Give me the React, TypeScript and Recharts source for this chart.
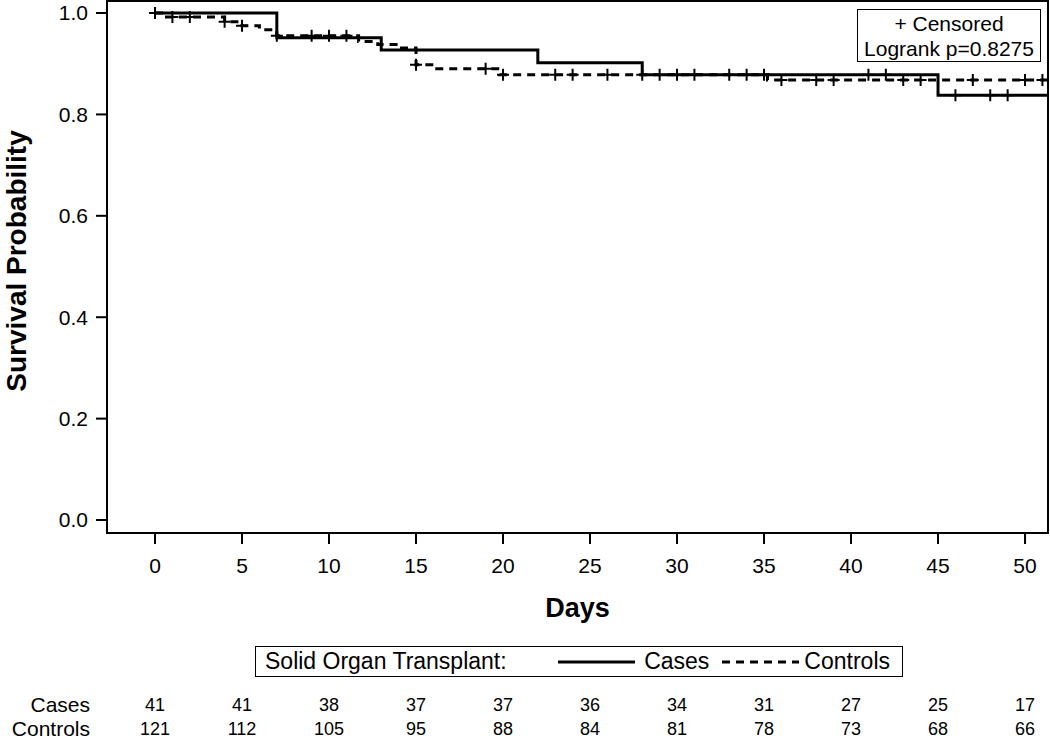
import React from 'react';
import { ComposedChart, Line, Scatter, XAxis, YAxis, ReferenceArea, Legend } from 'recharts';

// Kaplan-Meier steps
const CASES_TIMES = [0, 7, 13, 22, 28, 45, 51.32];
const CASES_SURV = [1.0, 0.951, 0.927, 0.902, 0.878, 0.838, 0.838];
const CONTROLS_TIMES = [0, 0.5, 4, 5, 6, 7, 11.7, 12.8, 14, 15, 16, 19.8, 35.2, 51.32];
const CONTROLS_SURV = [1.0, 0.992, 0.983, 0.975, 0.967, 0.955, 0.944, 0.938, 0.931, 0.898, 0.89, 0.878, 0.868, 0.868];

// censoring times (days)
const CASES_CENSORED = [0, 28, 30, 33, 35, 41, 42, 46, 48, 49];
const CONTROLS_CENSORED = [1, 2, 4, 5, 7, 9, 10, 11, 15, 19, 20, 23, 24, 26, 29, 31, 34, 36, 38, 39, 43, 44, 47, 50, 51];

// number at risk table
const DAY_TICKS = [0, 5, 10, 15, 20, 25, 30, 35, 40, 45, 50];
const CASES_AT_RISK = [41, 41, 38, 37, 37, 36, 34, 31, 27, 25, 17];
const CONTROLS_AT_RISK = [121, 112, 105, 95, 88, 84, 81, 78, 73, 68, 66];

const SURV_TICKS = [0, 0.2, 0.4, 0.6, 0.8, 1.0];
const X_DOMAIN: [number, number] = [-2.76, 51.32];
const Y_DOMAIN: [number, number] = [-0.0256, 1.0237];

const FONT = '"Liberation Sans", Arial, sans-serif';
const INK = '#000';

const toCurve = (times: number[], surv: number[]) => times.map((x, i) => ({ x, y: surv[i] }));

// survival value at time t on a step curve
const survAt = (times: number[], surv: number[], t: number) => {
  let idx = 0;
  times.forEach((tt, i) => {
    if (tt <= t) idx = i;
  });
  return surv[idx];
};

const casesCurve = toCurve(CASES_TIMES, CASES_SURV);
const controlsCurve = toCurve(CONTROLS_TIMES, CONTROLS_SURV);
const casesCensor = CASES_CENSORED.map((x) => ({ x, y: survAt(CASES_TIMES, CASES_SURV, x) }));
const controlsCensor = CONTROLS_CENSORED.map((x) => ({ x, y: survAt(CONTROLS_TIMES, CONTROLS_SURV, x) }));

const CensorMark = (props: any) => {
  const { cx, cy } = props;
  if (cx == null || cy == null) return null;
  return (
    <path
      d={`M${cx - 6},${cy}H${cx + 6}M${cx},${cy - 6}V${cy + 6}`}
      stroke={INK}
      strokeWidth={2}
      fill="none"
    />
  );
};

const YTitle = (props: any) => {
  const { x, y, height } = props.viewBox;
  const cx = x + 16;
  const cy = y + height / 2 - 6;
  return (
    <text
      x={cx}
      y={cy}
      transform={`rotate(-90 ${cx} ${cy})`}
      textAnchor="middle"
      dominantBaseline="central"
      fontFamily={FONT}
      fontWeight="bold"
      fontSize={28}
      fill={INK}
    >
      Survival Probability
    </text>
  );
};

const XTitle = (props: any) => {
  const { x, y, width } = props.viewBox;
  return (
    <text
      x={x + width / 2}
      y={y + 75}
      textAnchor="middle"
      dominantBaseline="central"
      fontFamily={FONT}
      fontWeight="bold"
      fontSize={27}
      fill={INK}
    >
      Days
    </text>
  );
};

const RowLabel = (props: any) => {
  const { x, y } = props.viewBox;
  return (
    <text
      x={x - 17}
      y={y + 10}
      textAnchor="end"
      dominantBaseline="central"
      fontFamily={FONT}
      fontSize={21}
      fill={INK}
    >
      {props.text}
    </text>
  );
};

const LegendBox = () => (
  <div
    style={{
      display: 'flex',
      alignItems: 'center',
      boxSizing: 'border-box',
      width: 648,
      height: 31,
      border: `1.5px solid ${INK}`,
      padding: '0 12px 0 9px',
      fontFamily: FONT,
      fontSize: 23,
      color: INK,
      background: '#fff',
    }}
  >
    <span>Solid Organ Transplant:</span>
    <svg width={77} height={10} style={{ marginLeft: 'auto', marginRight: 9 }}>
      <line x1={0} y1={5} x2={77} y2={5} stroke={INK} strokeWidth={3} />
    </svg>
    <span>Cases</span>
    <svg width={77} height={10} style={{ marginLeft: 13, marginRight: 5 }}>
      <line x1={0} y1={5} x2={77} y2={5} stroke={INK} strokeWidth={3} strokeDasharray="8 6" />
    </svg>
    <span>Controls</span>
  </div>
);

export default function App() {
  return (
    <div style={{ position: 'absolute', left: 0, top: 0, width: 1050, height: 738, background: '#fff' }}>
      <ComposedChart width={1050} height={738} margin={{ top: 1, right: 2, bottom: 0, left: 0 }}>
        <XAxis
          xAxisId="a_main"
          dataKey="x"
          type="number"
          domain={X_DOMAIN}
          allowDataOverflow
          ticks={DAY_TICKS}
          height={161}
          tickSize={11}
          tickMargin={14}
          stroke={INK}
          strokeWidth={2}
          tick={{ fontSize: 21, fill: INK, fontFamily: FONT }}
          label={<XTitle />}
        />
        <XAxis
          xAxisId="b_cases"
          dataKey="x"
          type="number"
          domain={X_DOMAIN}
          allowDataOverflow
          ticks={DAY_TICKS}
          height={24}
          axisLine={false}
          tickLine={false}
          tickSize={0}
          tickMargin={4}
          tick={{ fontSize: 18, fill: INK, fontFamily: FONT }}
          tickFormatter={(v: number) => String(CASES_AT_RISK[DAY_TICKS.indexOf(v)])}
          label={<RowLabel text="Cases" />}
        />
        <XAxis
          xAxisId="c_controls"
          dataKey="x"
          type="number"
          domain={X_DOMAIN}
          allowDataOverflow
          ticks={DAY_TICKS}
          height={20}
          axisLine={false}
          tickLine={false}
          tickSize={0}
          tickMargin={4}
          tick={{ fontSize: 18, fill: INK, fontFamily: FONT }}
          tickFormatter={(v: number) => String(CONTROLS_AT_RISK[DAY_TICKS.indexOf(v)])}
          label={<RowLabel text="Controls" />}
        />
        <YAxis
          yAxisId="surv"
          type="number"
          domain={Y_DOMAIN}
          allowDataOverflow
          ticks={SURV_TICKS}
          width={107}
          tickSize={11}
          tickMargin={8}
          stroke={INK}
          strokeWidth={2}
          tick={{ fontSize: 21, fill: INK, fontFamily: FONT }}
          tickFormatter={(v: number) => v.toFixed(1)}
          label={<YTitle />}
        />
        <ReferenceArea
          xAxisId="a_main"
          yAxisId="surv"
          x1={X_DOMAIN[0]}
          x2={X_DOMAIN[1]}
          y1={Y_DOMAIN[0]}
          y2={Y_DOMAIN[1]}
          fill="none"
          fillOpacity={0}
          stroke={INK}
          strokeWidth={2}
        />
        <Line
          xAxisId="a_main"
          yAxisId="surv"
          data={controlsCurve}
          dataKey="y"
          type="stepAfter"
          stroke={INK}
          strokeWidth={3}
          strokeDasharray="8 6"
          dot={false}
          activeDot={false}
          isAnimationActive={false}
        />
        <Line
          xAxisId="a_main"
          yAxisId="surv"
          data={casesCurve}
          dataKey="y"
          type="stepAfter"
          stroke={INK}
          strokeWidth={3}
          dot={false}
          activeDot={false}
          isAnimationActive={false}
        />
        <Scatter
          xAxisId="a_main"
          yAxisId="surv"
          data={controlsCensor}
          dataKey="y"
          shape={CensorMark}
          isAnimationActive={false}
        />
        <Scatter
          xAxisId="a_main"
          yAxisId="surv"
          data={casesCensor}
          dataKey="y"
          shape={CensorMark}
          isAnimationActive={false}
        />
        <Legend
          layout="horizontal"
          verticalAlign="middle"
          align="center"
          content={() => <LegendBox />}
          wrapperStyle={{ left: 255, top: 646, width: 648, height: 31 }}
        />
      </ComposedChart>
      <div
        style={{
          position: 'absolute',
          left: 857,
          top: 9,
          width: 184,
          height: 53,
          boxSizing: 'border-box',
          border: `1.5px solid ${INK}`,
          fontFamily: FONT,
          fontSize: 21,
          lineHeight: '25px',
          textAlign: 'center',
          color: INK,
          background: '#fff',
          paddingTop: 1,
        }}
      >
        <div>+ Censored</div>
        <div>Logrank p=0.8275</div>
      </div>
    </div>
  );
}
